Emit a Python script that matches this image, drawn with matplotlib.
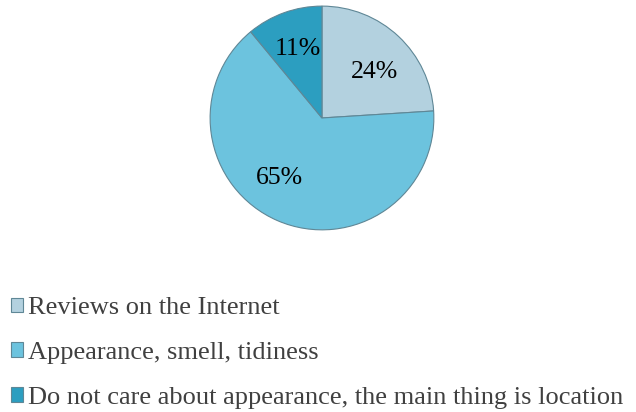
import matplotlib.pyplot as plt

labels = ["Reviews on the Internet",
          "Appearance, smell, tidiness",
          "Do not care about appearance, the main thing is location"]
shares = [24, 65, 11]
colors = ["#b3d1df", "#6cc3de", "#2c9ec0"]

# where the percentage labels sit inside the pie (axes data units)
label_pos = [(0.47, 0.41), (-0.38, -0.54), (-0.22, 0.62)]

plt.rcParams['font.family'] = ['Liberation Serif', 'DejaVu Serif']

fig = plt.figure(figsize=(6.36, 4.12), dpi=100)

# pie axes placed so the circle sits at the top centre
ax = fig.add_axes([0.3286, 0.4394, 0.3553, 0.5485])
wedges, texts, autotexts = ax.pie(
    shares, colors=colors, startangle=90, counterclock=False,
    autopct=lambda p: "%d%%" % round(p), pctdistance=0.67,
    wedgeprops=dict(edgecolor="#5f8796", linewidth=0.8),
    textprops=dict(fontsize=18.5, color="black"))
for t, pos in zip(autotexts, label_pos):
    t.set_position(pos)
ax.set_xlim(-1.01, 1.01)
ax.set_ylim(-1.01, 1.01)
ax.set_aspect("equal")

fig.legend(wedges, labels, loc="upper left",
           bbox_to_anchor=(11 / 636, 1 - 297 / 412),
           frameon=False, fontsize=19, labelcolor="#404040",
           handlelength=0.45, handleheight=0.45, handletextpad=0.2,
           labelspacing=0.87, borderpad=0, borderaxespad=0)

fig.savefig("out.png", dpi=100)
